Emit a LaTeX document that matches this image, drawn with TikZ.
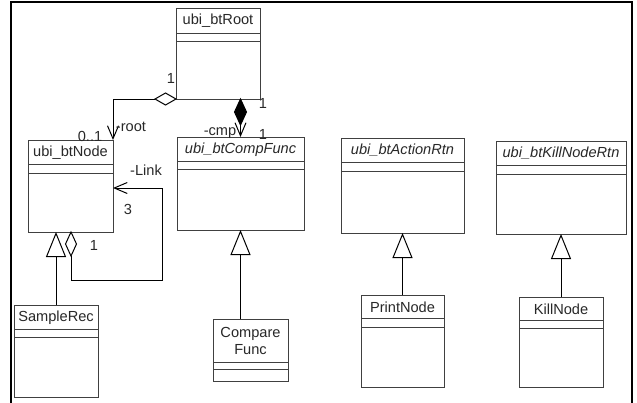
\documentclass[tikz,border=0pt]{standalone}
\usepackage{fontspec}
\setmainfont{Liberation Sans}
\usetikzlibrary{arrows.meta}

\tikzset{
  classbox/.style={draw=boxgray, line width=1pt, rectangle, inner sep=0pt, outer sep=0pt, fill=white},
  classline/.style={draw=boxgray, line width=1pt},
  classname/.style={inner sep=0pt, text=textgray, font=\fontsize{14.6}{16.5}\selectfont, align=center},
  abstractname/.style={classname, font=\fontsize{14.6}{16.5}\selectfont\itshape},
  lbl/.style={inner sep=0pt, text=textgray, font=\fontsize{14.6}{16.5}\selectfont},
  conn/.style={draw=black, line width=1pt},
  navarrow/.style={-{Straight Barb[length=13pt,width=11pt,line width=1pt]}},
  genarrow/.style={-{Triangle[open,length=25pt,width=20pt,line width=1pt,fill=white]}},
  frameline/.style={draw=black, line width=2.5pt}
}
\definecolor{boxgray}{RGB}{64,64,64}
\definecolor{textgray}{RGB}{40,40,40}

% class box: name, left, top, right, bottom, divider 1, divider 2, label, label style
\newcommand\umlclass[9]{%
  \node[classbox, minimum width={#4-#2}, minimum height={#5-#3}] (#1) at ({(#2+#4)/2},{(#3+#5)/2}) {};
  \draw[classline] (#2,#6) -- (#4,#6) (#2,#7) -- (#4,#7);
  \node[#9] (#1-name) at ({(#2+#4)/2},{(#3+#6)/2+0.5}) {#8};
}

\begin{document}
\begin{tikzpicture}[x=1pt, y=-1pt]
\useasboundingbox (0,0) rectangle (637,402);

% outer frame, open at the bottom
\draw[frameline] (11,403) -- (11,2) -- (632,2) -- (632,403);

% classes
\umlclass{root}{176}{8}{260}{99}{33}{41}{ubi\_btRoot}{classname}
\umlclass{btnode}{28}{140}{113}{232}{164}{173}{ubi\_btNode}{classname}
\umlclass{comp}{177}{137}{304}{230}{161}{169}{ubi\_btCompFunc}{abstractname}
\umlclass{action}{341}{138}{464}{233}{162}{171}{ubi\_btActionRtn}{abstractname}
\umlclass{kill}{496}{141}{626}{234}{165}{174}{ubi\_btKillNodeRtn}{abstractname}
\umlclass{sample}{14}{305}{98}{397}{329}{337}{SampleRec}{classname}
\umlclass{cmpfunc}{213}{319}{288}{381}{362}{369}{Compare\\Func}{classname}
\umlclass{print}{361}{295}{444}{387}{318}{327}{PrintNode}{classname}
\umlclass{killnode}{519}{297}{603}{387}{320}{328}{KillNode}{classname}

% aggregation root -> ubi_btNode
\coordinate (aggR) at (root.south west);
\draw[conn, fill=white] (aggR) -- ++(-10.5,-6) -- ++(-10.5,6) coordinate (aggRend) -- ++(10.5,6) -- cycle;
\draw[conn, navarrow] (aggRend) -- (btnode.north east |- aggRend) -- (btnode.north east);

% composition root -> ubi_btCompFunc
\coordinate (cmpTop) at (root.south -| comp.north);
\draw[conn, fill=black] (cmpTop) -- ++(6,13) -- ++(-6,13) coordinate (cmpBot) -- ++(-6,-13) -- cycle;
\draw[conn, navarrow] (cmpBot) -- (comp.north);

% self association of ubi_btNode
\coordinate (linkTop) at (71,232);
\draw[conn, fill=white] (linkTop) -- ++(5.5,12) -- ++(-5.5,12) coordinate (linkBot) -- ++(-5.5,-12) -- cycle;
\coordinate (linkIn) at (btnode.east |- 0,188);
\draw[conn, navarrow] (linkBot) -- (71,280) -- (162,280) -- (162,188) -- (linkIn);

% generalisations
\draw[conn, genarrow] (sample.north) -- (sample.north |- btnode.south);
\draw[conn, genarrow] (cmpfunc.north -| comp.south) -- (comp.south);
\draw[conn, genarrow] (print.north) -- (action.south);
\draw[conn, genarrow] (killnode.north) -- (kill.south);

% association end labels
\node[lbl] (l1) at (171,78) {1};
\node[lbl] (l2) at (90,136) {0..1};
\node[lbl] (l3) at (131,127) {-root};
\node[lbl] (l4) at (263,103) {1};
\node[lbl] (l5) at (220,133) {-cmp};
\node[lbl] (l6) at (263,134) {1};
\node[lbl] (l7) at (146,170) {-Link};
\node[lbl] (l8) at (128,209) {3};
\node[lbl] (l9) at (94,245) {1};
\end{tikzpicture}
\end{document}
